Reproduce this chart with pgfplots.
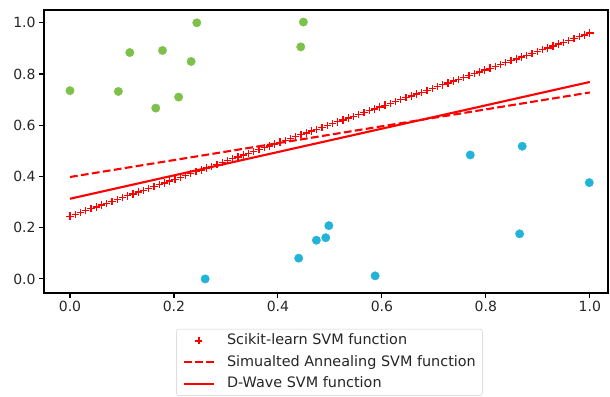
\documentclass[border=0pt]{standalone}
\usepackage{fontspec}
\setmainfont{DejaVu Sans}
\usepackage{pgfplots}
\pgfplotsset{compat=1.18}
\definecolor{ptgreen}{RGB}{126,193,74}
\definecolor{ptblue}{RGB}{34,180,216}
\pgfdeclareplotmark{redplus}{%
  \pgfsetlinewidth{1.3pt}%
  \pgfsetstrokecolor{red}%
  \pgfpathmoveto{\pgfqpoint{-\pgfplotmarksize}{0pt}}%
  \pgfpathlineto{\pgfqpoint{\pgfplotmarksize}{0pt}}%
  \pgfpathmoveto{\pgfqpoint{0pt}{-\pgfplotmarksize}}%
  \pgfpathlineto{\pgfqpoint{0pt}{\pgfplotmarksize}}%
  \pgfusepathqstroke}
\pgfplotsset{
  mylineleg/.style={legend image code/.code={\draw[##1] (0pt,0pt) -- (30pt,0pt);}},
  mymarkleg/.style={legend image code/.code={\draw[red, line width=1.3pt] (11.5pt,0pt) -- (18.5pt,0pt) (15pt,-3.5pt) -- (15pt,3.5pt);}},
}
\begin{document}
\begin{tikzpicture}
\path[use as bounding box] (-44pt,-103pt) rectangle (566pt,293pt);
\begin{axis}[
  scale only axis, width=564pt, height=283pt,
  xmin=-0.05, xmax=1.035, ymin=-0.055, ymax=1.05,
  xtick={0,0.2,0.4,0.6,0.8,1.0}, ytick={0,0.2,0.4,0.6,0.8,1.0},
  tick pos=left, tick align=outside, major tick length=4.9pt,
  axis line style={black, line width=1.1pt},
  tick style={black, line width=1.1pt},
  tick label style={font=\fontsize{14}{16}\selectfont, text=black!85},
  xticklabel style={/pgf/number format/fixed, /pgf/number format/fixed zerofill, /pgf/number format/precision=1, /pgf/number format/assume math mode=true},
  yticklabel style={/pgf/number format/fixed, /pgf/number format/fixed zerofill, /pgf/number format/precision=1, /pgf/number format/assume math mode=true},
  legend style={at={(0.506,-0.127)}, anchor=north, draw=black!20, rounded corners=2.5pt,
    font=\fontsize{14.4}{16}\selectfont, text=black!85,
    nodes={inner sep=0pt, text height=10.5pt, text depth=3pt},
    row sep=8pt, column sep=12pt, inner xsep=6.5pt, inner ysep=5pt},
  legend cell align=left,
]
% green class
\addplot[only marks, mark=*, mark size=4.2pt, ptgreen, mark options={draw=ptgreen, fill=ptgreen}, forget plot] coordinates {
(0.000,0.735) (0.093,0.732) (0.115,0.884) (0.178,0.892) (0.165,0.667)
(0.209,0.710) (0.233,0.849) (0.244,1.000) (0.449,1.003) (0.444,0.906)
};
% blue class
\addplot[only marks, mark=*, mark size=4.2pt, ptblue, mark options={draw=ptblue, fill=ptblue}, forget plot] coordinates {
(0.260,0.000) (0.440,0.081) (0.474,0.151) (0.492,0.161) (0.498,0.208)
(0.587,0.012) (0.770,0.484) (0.870,0.518) (0.865,0.176) (0.999,0.376)
};
% scikit-learn
\addplot[only marks, red, mark=redplus, mark size=3.7pt, mark options={red, solid}, mymarkleg] coordinates {
(0.0000,0.2450) (0.0101,0.2522) (0.0202,0.2594) (0.0303,0.2667) (0.0404,0.2739)
(0.0505,0.2811) (0.0606,0.2883) (0.0707,0.2956) (0.0808,0.3028) (0.0909,0.3100)
(0.1010,0.3172) (0.1111,0.3244) (0.1212,0.3317) (0.1313,0.3389) (0.1414,0.3461)
(0.1515,0.3533) (0.1616,0.3606) (0.1717,0.3678) (0.1818,0.3750) (0.1919,0.3822)
(0.2020,0.3894) (0.2121,0.3967) (0.2222,0.4039) (0.2323,0.4111) (0.2424,0.4183)
(0.2525,0.4256) (0.2626,0.4328) (0.2727,0.4400) (0.2828,0.4472) (0.2929,0.4544)
(0.3030,0.4617) (0.3131,0.4689) (0.3232,0.4761) (0.3333,0.4833) (0.3434,0.4906)
(0.3535,0.4978) (0.3636,0.5050) (0.3737,0.5122) (0.3838,0.5194) (0.3939,0.5267)
(0.4040,0.5339) (0.4141,0.5411) (0.4242,0.5483) (0.4343,0.5556) (0.4444,0.5628)
(0.4545,0.5700) (0.4646,0.5772) (0.4747,0.5844) (0.4848,0.5917) (0.4949,0.5989)
(0.5051,0.6061) (0.5152,0.6133) (0.5253,0.6206) (0.5354,0.6278) (0.5455,0.6350)
(0.5556,0.6422) (0.5657,0.6494) (0.5758,0.6567) (0.5859,0.6639) (0.5960,0.6711)
(0.6061,0.6783) (0.6162,0.6856) (0.6263,0.6928) (0.6364,0.7000) (0.6465,0.7072)
(0.6566,0.7144) (0.6667,0.7217) (0.6768,0.7289) (0.6869,0.7361) (0.6970,0.7433)
(0.7071,0.7506) (0.7172,0.7578) (0.7273,0.7650) (0.7374,0.7722) (0.7475,0.7794)
(0.7576,0.7867) (0.7677,0.7939) (0.7778,0.8011) (0.7879,0.8083) (0.7980,0.8156)
(0.8081,0.8228) (0.8182,0.8300) (0.8283,0.8372) (0.8384,0.8444) (0.8485,0.8517)
(0.8586,0.8589) (0.8687,0.8661) (0.8788,0.8733) (0.8889,0.8806) (0.8990,0.8878)
(0.9091,0.8950) (0.9192,0.9022) (0.9293,0.9094) (0.9394,0.9167) (0.9495,0.9239)
(0.9596,0.9311) (0.9697,0.9383) (0.9798,0.9456) (0.9899,0.9528) (1.0000,0.9600)
};
\addlegendentry{Scikit-learn SVM function}
% simulated annealing
\addplot[red, line width=2.1pt, dash pattern=on 7.7pt off 3.4pt, mylineleg] coordinates {
(0.0,0.398) (1.0,0.728)
};
\addlegendentry{Simualted Annealing SVM function}
% D-Wave
\addplot[red, line width=2.1pt, mylineleg] coordinates {
(0.0,0.313) (1.0,0.769)
};
\addlegendentry{D-Wave SVM function}
\end{axis}
\end{tikzpicture}
\end{document}
